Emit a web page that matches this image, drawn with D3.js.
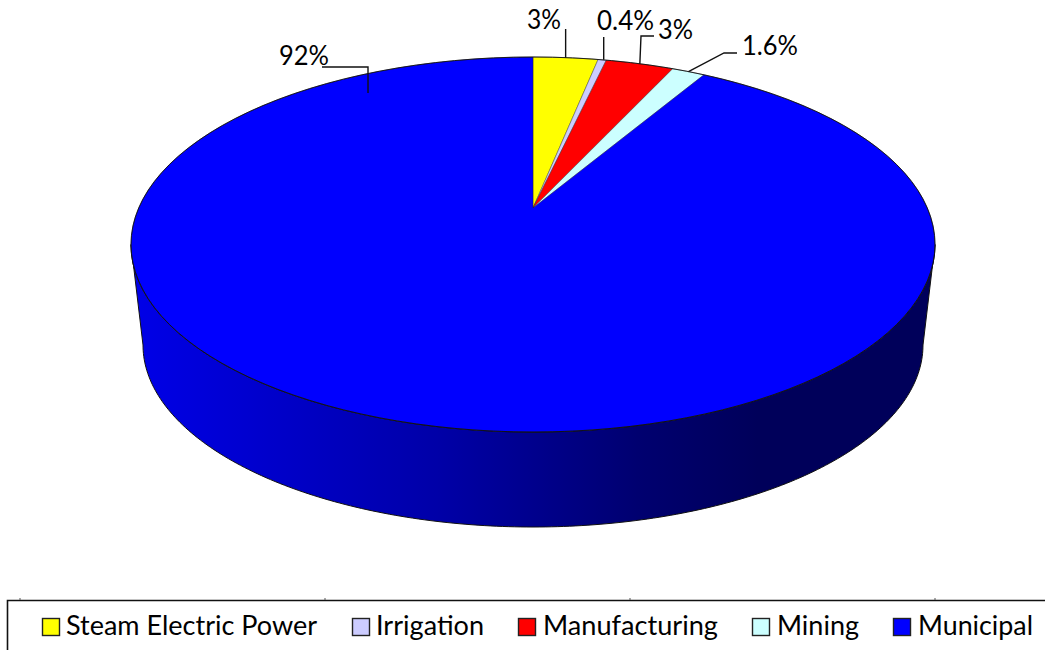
<!DOCTYPE html>
<html>
<head>
<meta charset="utf-8">
<script src="https://cdn.jsdelivr.net/npm/d3@7/dist/d3.min.js"></script>
<style>
  html, body { margin: 0; background: #fff; }
  svg { display: block; }
  text { font-family: Lato, "Noto Sans", sans-serif; fill: #000; }
</style>
</head>
<body>
<svg id="chart" width="1045" height="650"></svg>
<script>
const categories = ["Steam Electric Power", "Irrigation", "Manufacturing", "Mining", "Municipal"];
const values = [3.15, 0.4, 3.3, 1.6, 91.55];
const labels = ["3%", "0.4%", "3%", "1.6%", "92%"];
const colors = ["#ffff00", "#ccccff", "#ff0000", "#ccffff", "#0000ff"];

const svg = d3.select("#chart");

// top face of the disc, seen in perspective: the pie centre sits above the ellipse centre
const top_ = { cx: 533, cy: 244.5, rx: 402, ry: 187.5, apexY: 208 };
const bottom = { cx: 533, cy: 345, rx: 390, ry: 182 };
const tilt = (top_.cy - top_.apexY) / top_.ry;

const xScale = d3.scaleLinear().domain([-1, 1]).range([top_.cx - top_.rx, top_.cx + top_.rx]);
const yScale = d3.scaleLinear().domain([-1, 1]).range([top_.cy - top_.ry, top_.cy + top_.ry]);

// pie angle (0 at 12 o'clock, clockwise) -> point on the projected rim
function rim(angle) {
  const x = Math.sin(angle), y = -Math.cos(angle);
  const k = 1 - tilt * y;
  return [xScale(x * Math.sqrt(1 - tilt * tilt) / k), yScale((y - tilt) / k)];
}

const pie = d3.pie().sort(null)(values);
const line = d3.line();

function slicePath(d) {
  const n = Math.max(2, Math.ceil((d.endAngle - d.startAngle) / 0.01));
  const pts = d3.range(n + 1).map(i => rim(d.startAngle + (d.endAngle - d.startAngle) * i / n));
  return line([[top_.cx, top_.apexY], ...pts]) + "Z";
}

function halfEllipse(e, from, to) {
  return d3.range(0, 201).map(i => {
    const a = from + (to - from) * i / 200;
    return [e.cx + e.rx * Math.cos(a), e.cy + e.ry * Math.sin(a)];
  });
}

// side wall
const defs = svg.append("defs");
const wall = defs.append("linearGradient")
  .attr("id", "wall")
  .attr("gradientUnits", "userSpaceOnUse")
  .attr("x1", 131).attr("x2", 935).attr("y1", 0).attr("y2", 0);
[[0, "#0000e8"], [0.38, "#0000a8"], [0.63, "#000070"], [0.78, "#00005a"], [1, "#00005a"]]
  .forEach(s => wall.append("stop").attr("offset", s[0]).attr("stop-color", s[1]));

// lower edge left to right, then back along the front of the top face
const wallPts = [
  ...halfEllipse(bottom, Math.PI, 0),
  ...halfEllipse(top_, 0, Math.PI)
];
svg.append("path")
  .attr("d", line(wallPts) + "Z")
  .attr("fill", "url(#wall)")
  .attr("stroke", "#111")
  .attr("stroke-width", 1);

// slices
svg.selectAll(".slice")
  .data(pie)
  .enter()
  .append("path")
  .attr("class", "slice")
  .attr("d", slicePath)
  .attr("fill", (d, i) => colors[i])
  .attr("stroke", "#222")
  .attr("stroke-opacity", 0.55)
  .attr("stroke-width", 0.7)
  .attr("stroke-linejoin", "round");

// rim outline of the top face
svg.append("ellipse")
  .attr("cx", top_.cx).attr("cy", top_.cy)
  .attr("rx", top_.rx).attr("ry", top_.ry)
  .attr("fill", "none")
  .attr("stroke", "#111")
  .attr("stroke-width", 0.9);

// data labels and leader lines
const labelAt = [
  { x: 527, y: 29, w: 34 },
  { x: 597, y: 30, w: 57 },
  { x: 658, y: 39, w: 35 },
  { x: 742, y: 55, w: 56 },
  { x: 279, y: 65, w: 50 }
];
const leaders = [
  a => [[a[0], 29], a],
  a => [[a[0] + 1.5, 37], [a[0] + 1.5, a[1]]],
  a => [[654, 36], [641, 36], a],
  a => [[737, 53], [724, 53], a],
  () => [[322, 67], [368, 67], [368, 93]]
];

svg.selectAll(".leader")
  .data(pie)
  .enter()
  .append("path")
  .attr("class", "leader")
  .attr("d", (d, i) => line(leaders[i](rim((d.startAngle + d.endAngle) / 2))))
  .attr("fill", "none")
  .attr("stroke", "#111")
  .attr("stroke-width", 1.4);

svg.selectAll(".label")
  .data(labels)
  .enter()
  .append("text")
  .attr("class", "label")
  .attr("x", (d, i) => labelAt[i].x)
  .attr("y", (d, i) => labelAt[i].y)
  .attr("textLength", (d, i) => labelAt[i].w)
  .attr("lengthAdjust", "spacingAndGlyphs")
  .style("font-size", "27px")
  .text(d => d);

// legend box, runs off the right and bottom of the picture
svg.append("path")
  .attr("d", "M7.5,650V600.5H1045")
  .attr("fill", "none")
  .attr("stroke", "#111")
  .attr("stroke-width", 1.6);
svg.selectAll(".legend-tick")
  .data([20, 325, 630, 935])
  .enter()
  .append("line")
  .attr("class", "legend-tick")
  .attr("x1", d => d).attr("x2", d => d)
  .attr("y1", 598).attr("y2", 600)
  .attr("stroke", "#555");

const legendAt = [
  { sx: 42, tx: 66, w: 251 },
  { sx: 352, tx: 376, w: 108 },
  { sx: 518, tx: 543, w: 175 },
  { sx: 752, tx: 777, w: 82 },
  { sx: 893, tx: 918, w: 115 }
];
const legend = svg.selectAll(".legend-item")
  .data(categories)
  .enter()
  .append("g")
  .attr("class", "legend-item");
legend.append("rect")
  .attr("x", (d, i) => legendAt[i].sx + 0.5)
  .attr("y", 618.5)
  .attr("width", 17)
  .attr("height", 17)
  .attr("fill", (d, i) => colors[i])
  .attr("stroke", "#222")
  .attr("stroke-width", 1.4);
legend.append("text")
  .attr("x", (d, i) => legendAt[i].tx)
  .attr("y", 635)
  .attr("textLength", (d, i) => legendAt[i].w)
  .attr("lengthAdjust", "spacingAndGlyphs")
  .style("font-size", "26px")
  .text(d => d);
</script>
</body>
</html>
